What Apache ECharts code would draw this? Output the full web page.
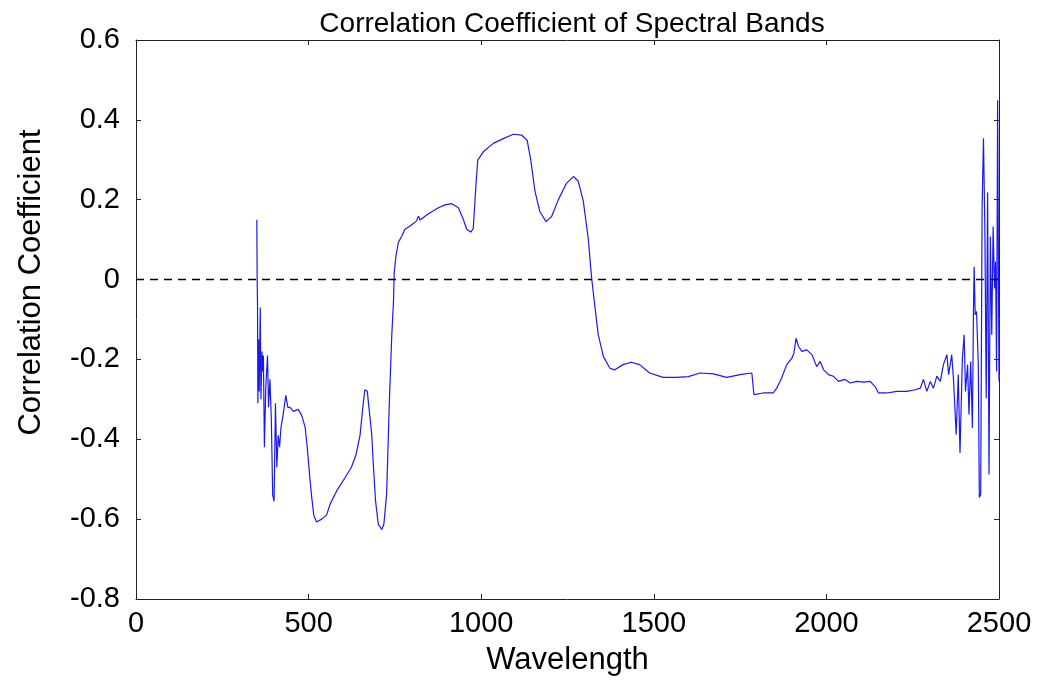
<!DOCTYPE html>
<html>
<head>
<meta charset="utf-8">
<script src="https://cdn.jsdelivr.net/npm/echarts@6/dist/echarts.min.js"></script>
<style>
  html, body { margin: 0; padding: 0; background: #fff; }
  #chart { width: 1039px; height: 690px; }
</style>
</head>
<body>
<div id="chart"></div>
<script>
// wavelength (nm) and correlation
var wavelength = [
  350, 351, 352, 353, 355, 357, 360, 362, 365, 367, 369, 372, 376, 381, 384, 388, 392, 396, 400, 404,
  408, 412, 416, 420, 426, 434, 440, 446, 456, 470, 480, 490, 496, 504, 509, 515, 523, 538, 552, 562,
  581, 605, 624, 637, 649, 657, 663, 670, 676, 683, 688, 694, 702, 712, 718, 726, 734, 741, 746, 748,
  753, 760, 770, 779, 794, 813, 818, 823, 847, 876, 895, 915, 934, 948, 958, 970, 977, 985, 990, 1006,
  1035, 1064, 1093, 1117, 1133, 1143, 1156, 1170, 1188, 1204, 1223, 1247, 1267, 1281, 1296, 1310, 1320, 1330, 1339, 1354,
  1373, 1387, 1411, 1435, 1459, 1488, 1527, 1566, 1600, 1634, 1673, 1711, 1750, 1784, 1790, 1817, 1846, 1856, 1870, 1885,
  1900, 1906, 1912, 1919, 1929, 1943, 1958, 1972, 1982, 1992, 2006, 2020, 2035, 2054, 2069, 2088, 2108, 2127, 2141, 2151,
  2175, 2204, 2233, 2257, 2272, 2281, 2291, 2301, 2310, 2320, 2330, 2339, 2349, 2354, 2363, 2368, 2376, 2382, 2387, 2394,
  2399, 2403, 2409, 2413, 2418, 2423, 2426, 2428, 2431, 2435, 2440, 2443, 2447, 2451, 2455, 2459, 2463, 2467, 2471, 2475,
  2479, 2483, 2487, 2490, 2493, 2496, 2500
];
var corr = [
  0.15, 0.00, -0.06, -0.31, -0.15, -0.28, -0.07, -0.30, -0.18, -0.23, -0.19, -0.42, -0.27, -0.19, -0.32, -0.25, -0.35, -0.54, -0.555, -0.31,
  -0.47, -0.39, -0.42, -0.37, -0.34, -0.29, -0.32, -0.32, -0.33, -0.325, -0.34, -0.37, -0.42, -0.50, -0.545, -0.59, -0.607, -0.60, -0.59, -0.563,
  -0.53, -0.497, -0.47, -0.44, -0.39, -0.32, -0.276, -0.28, -0.33, -0.39, -0.47, -0.555, -0.613, -0.626, -0.613, -0.538, -0.305, -0.138, -0.053, 0.017,
  0.059, 0.093, 0.109, 0.126, 0.134, 0.147, 0.159, 0.149, 0.165, 0.18, 0.187, 0.19, 0.18, 0.151, 0.126, 0.119, 0.128, 0.24, 0.299, 0.32,
  0.341, 0.353, 0.364, 0.362, 0.349, 0.303, 0.22, 0.17, 0.145, 0.158, 0.199, 0.241, 0.258, 0.247, 0.195, 0.103, 0.003, -0.072, -0.138, -0.193,
  -0.222, -0.226, -0.213, -0.207, -0.213, -0.234, -0.245, -0.245, -0.243, -0.234, -0.236, -0.245, -0.238, -0.234, -0.288, -0.284, -0.284, -0.272, -0.247, -0.213,
  -0.197, -0.184, -0.147, -0.167, -0.18, -0.176, -0.188, -0.218, -0.205, -0.226, -0.238, -0.242, -0.255, -0.25, -0.259, -0.255, -0.257, -0.255, -0.268, -0.284,
  -0.284, -0.28, -0.28, -0.276, -0.272, -0.25, -0.28, -0.255, -0.272, -0.242, -0.255, -0.213, -0.188, -0.238, -0.188, -0.247, -0.388, -0.238, -0.434, -0.197,
  -0.138, -0.28, -0.213, -0.338, -0.205, -0.372, -0.08, 0.032, -0.088, -0.08, -0.213, -0.546, -0.538, 0.175, 0.354, 0.133, -0.297, 0.218, -0.488, 0.108,
  -0.138, 0.133, -0.022, 0.045, -0.23, 0.449, -0.255
];
// dashed reference line at zero
var zeroX = [0, 2500];
var zeroY = [0, 0];

var xTicks = [0, 500, 1000, 1500, 2000, 2500];
var yTicks = [-0.8, -0.6, -0.4, -0.2, 0, 0.2, 0.4, 0.6];

var font = '"Liberation Sans", Arial, sans-serif';
var boxLine = { show: true, onZero: false, lineStyle: { color: '#222', width: 1 } };
var tickIn = { show: true, inside: true, length: 5, lineStyle: { color: '#222' } };

var chart = echarts.init(document.getElementById('chart'));

var option = {
  animation: false,
  backgroundColor: '#fff',
  textStyle: { fontFamily: font },
  title: {
    text: 'Correlation Coefficient of Spectral Bands',
    left: 567,
    textAlign: 'center',
    top: 5,
    textStyle: { fontFamily: font, fontSize: 28, fontWeight: 'normal', color: '#000' }
  },
  grid: { left: 136, right: 40, top: 40, bottom: 91 },
  xAxis: [
    {
      type: 'value', position: 'bottom',
      min: xTicks[0], max: xTicks[xTicks.length - 1], interval: 500,
      axisLine: boxLine, axisTick: tickIn, splitLine: { show: false },
      axisLabel: {
        fontSize: 29, color: '#000', margin: 10, fontFamily: font,
        formatter: function (v) { return String(v); }
      },
      name: 'Wavelength', nameLocation: 'middle', nameGap: 46,
      nameTextStyle: { fontSize: 31, color: '#000', fontFamily: font }
    },
    {
      type: 'value', position: 'top',
      min: xTicks[0], max: xTicks[xTicks.length - 1], interval: 500,
      axisLine: boxLine, axisTick: tickIn, splitLine: { show: false },
      axisLabel: { show: false }
    }
  ],
  yAxis: [
    {
      type: 'value', position: 'left',
      min: yTicks[0], max: yTicks[yTicks.length - 1], interval: 0.2,
      axisLine: boxLine, axisTick: tickIn, splitLine: { show: false },
      axisLabel: {
        fontSize: 29, color: '#000', margin: 16, fontFamily: font,
        formatter: function (v) { return String(+v.toFixed(1)); }
      },
      name: 'Correlation Coefficient', nameLocation: 'middle', nameGap: 89,
      nameTextStyle: { fontSize: 31, color: '#000', fontFamily: font, padding: [0, 0, 0, 74] }
    },
    {
      type: 'value', position: 'right',
      min: yTicks[0], max: yTicks[yTicks.length - 1], interval: 0.2,
      axisLine: boxLine, axisTick: tickIn, splitLine: { show: false },
      axisLabel: { show: false }
    }
  ],
  series: [
    {
      type: 'line',
      data: wavelength.map(function (w, i) { return [w, corr[i]]; }),
      showSymbol: false,
      lineStyle: { color: '#1a1aee', width: 1.2 },
      itemStyle: { color: '#1a1aee' },
      z: 2
    },
    {
      type: 'line',
      data: zeroX.map(function (x, i) { return [x, zeroY[i]]; }),
      showSymbol: false,
      lineStyle: { color: '#000', width: 1.5, type: [8, 6] },
      z: 3
    }
  ]
};

chart.setOption(option);
</script>
</body>
</html>
